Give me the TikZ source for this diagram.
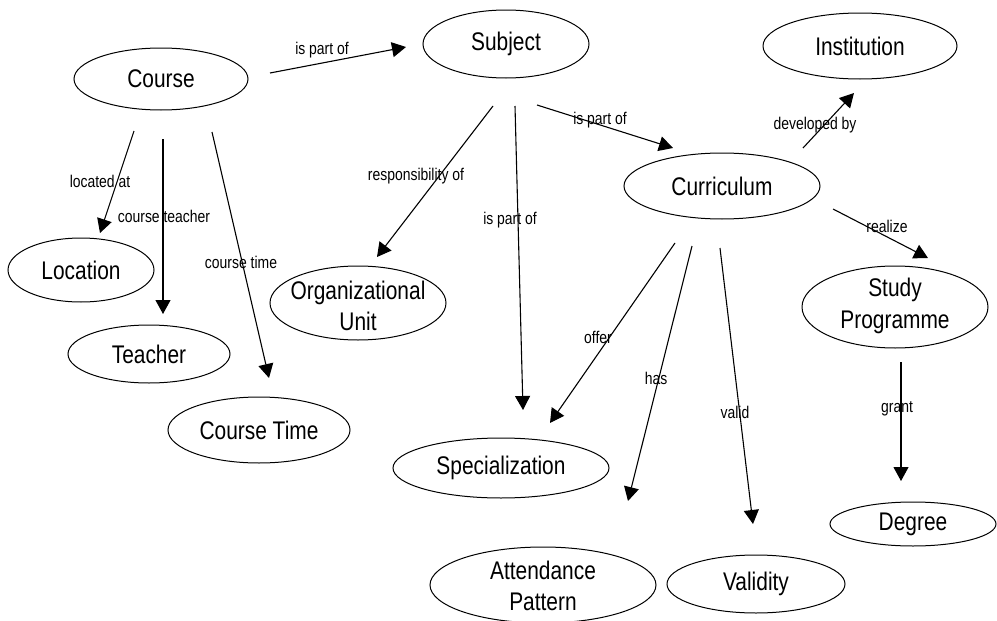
\documentclass[tikz,border=0pt]{standalone}
\usepackage{fontspec}
\setmainfont{Liberation Sans}[FakeStretch=0.82]
\usetikzlibrary{arrows.meta,shapes.geometric}
\tikzset{
  cbox/.style={draw=black, line width=1pt, ellipse, inner sep=0pt},
  ctext/.style={inner sep=0pt, align=center, font=\fontsize{25.5}{31.5}\selectfont},
  rel/.style={line width=1.1pt, -{Triangle[length=14pt,width=15pt]}},
  rlab/.style={inner sep=0pt, font=\fontsize{17}{20}\selectfont}
}
\begin{document}
\begin{tikzpicture}[x=1pt,y=-1pt]
\useasboundingbox (0,0) rectangle (997,621);
% concepts
\node[cbox, minimum width=174pt, minimum height=62pt] (course) at (161,79) {};
\node[ctext] (courseT) at (course) {Course};
\node[cbox, minimum width=166pt, minimum height=68pt] (subject) at (506,44) {};
\node[ctext] (subjectT) at (subject) {Subject};
\node[cbox, minimum width=194pt, minimum height=66pt] (inst) at (860,46) {};
\node[ctext] (instT) at (inst) {Institution};
\node[cbox, minimum width=196pt, minimum height=66pt] (curr) at (722,186) {};
\node[ctext] (currT) at (curr) {Curriculum};
\node[cbox, minimum width=146pt, minimum height=64pt] (loc) at (81,270) {};
\node[ctext] (locT) at (loc) {Location};
\node[cbox, minimum width=162pt, minimum height=58pt] (teach) at (149,354) {};
\node[ctext] (teachT) at (teach) {Teacher};
\node[cbox, minimum width=182pt, minimum height=66pt] (ctime) at (259,430) {};
\node[ctext] (ctimeT) at (ctime) {Course Time};
\node[cbox, minimum width=176pt, minimum height=74pt] (org) at (358,303) {};
\node[ctext] (orgT) at (358,306) {Organizational\\Unit};
\node[cbox, minimum width=216pt, minimum height=60pt] (spec) at (501,468) {};
\node[ctext] (specT) at (spec) {Specialization};
\node[cbox, minimum width=226pt, minimum height=76pt] (att) at (543,585) {};
\node[ctext] (attT) at (543,586) {Attendance\\Pattern};
\node[cbox, minimum width=178pt, minimum height=58pt] (valid) at (756,584) {};
\node[ctext] (validT) at (valid) {Validity};
\node[cbox, minimum width=186pt, minimum height=82pt] (study) at (895,307) {};
\node[ctext] (studyT) at (895,306) {Study\\Programme};
\node[cbox, minimum width=166pt, minimum height=44pt] (degree) at (913,524) {};
\node[ctext] (degreeT) at (degree) {Degree};
% connector end points
\coordinate (a1) at (270,73);  \coordinate (b1) at (406,47);
\coordinate (a2) at (134,131); \coordinate (b2) at (100,233);
\coordinate (a3) at (163,139); \coordinate (b3) at (163,314);
\coordinate (a4) at (212,132); \coordinate (b4) at (269,378);
\coordinate (a5) at (493,106); \coordinate (b5) at (377,257);
\coordinate (a6) at (515,106); \coordinate (b6) at (523,410);
\coordinate (a7) at (537,105); \coordinate (b7) at (673,148);
\coordinate (a8) at (803,148); \coordinate (b8) at (854,93);
\coordinate (a9) at (833,209); \coordinate (b9) at (928,258);
\coordinate (a10) at (675,243); \coordinate (b10) at (550,423);
\coordinate (a11) at (692,246); \coordinate (b11) at (628,501);
\coordinate (a12) at (720,248); \coordinate (b12) at (753,524);
\coordinate (a13) at (901,362); \coordinate (b13) at (901,481);
% connectors
\draw[rel] (a1) -- (b1);
\draw[rel] (a2) -- (b2);
\draw[rel] (a3) -- (b3);
\draw[rel] (a4) -- (b4);
\draw[rel] (a5) -- (b5);
\draw[rel] (a6) -- (b6);
\draw[rel] (a7) -- (b7);
\draw[rel] (a8) -- (b8);
\draw[rel] (a9) -- (b9);
\draw[rel] (a10) -- (b10);
\draw[rel] (a11) -- (b11);
\draw[rel] (a12) -- (b12);
\draw[rel] (a13) -- (b13);
% labels
\node[rlab] (l1) at (322,50) {is part of};
\node[rlab] (l2) at (100,181) {located at};
\node[rlab] (l3) at (164,216) {course teacher};
\node[rlab] (l4) at (241,262) {course time};
\node[rlab] (l5) at (416,176) {responsibility of};
\node[rlab] (l6) at (510,220) {is part of};
\node[rlab] (l7) at (600,120) {is part of};
\node[rlab] (l8) at (815,125) {developed by};
\node[rlab] (l9) at (887,226) {realize};
\node[rlab] (l10) at (598,337) {offer};
\node[rlab] (l11) at (656,378) {has};
\node[rlab] (l12) at (735,412) {valid};
\node[rlab] (l13) at (897,409) {grant};
\end{tikzpicture}
\end{document}
